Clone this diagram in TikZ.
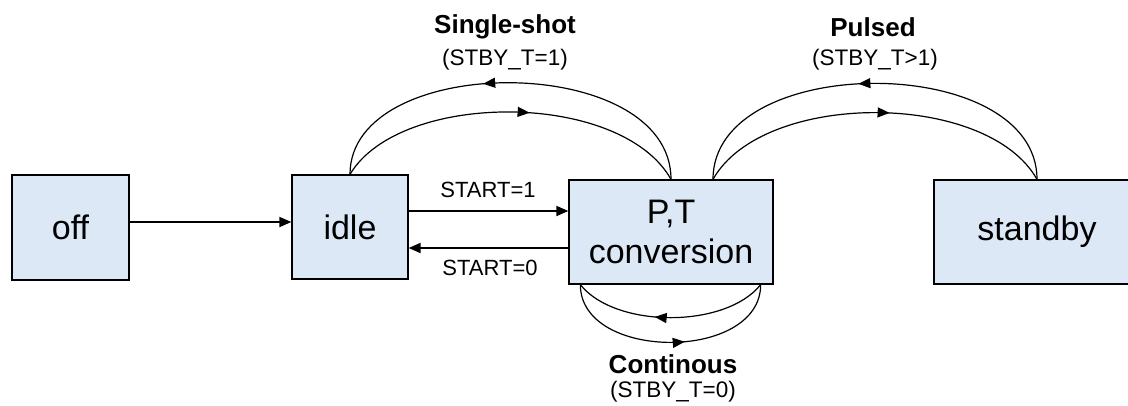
\documentclass[tikz,border=0pt]{standalone}
\usepackage{fontspec}
\setmainfont{Liberation Sans}
\usetikzlibrary{arrows.meta,decorations.markings}
\definecolor{boxblue}{RGB}{220,232,246}

\begin{document}
\begin{tikzpicture}[x=1pt, y=-1pt]
\tikzset{
	state/.style = {
		draw, line width=1.3pt,
		fill=boxblue, inner sep=0pt,
		align=center, font=\fontsize{34}{40}\selectfont
	},
	trans/.style={
		draw, line width=1.8pt,
		-{Triangle[length=12pt, width=10pt]}
	},
	loop/.style={
		draw, line width=1.2pt,
		postaction={decorate},
		decoration={markings,
			mark=at position #1 with {\arrow{Triangle[length=12pt, width=10pt]}}}
	},
	lbl/.style={
		font=\fontsize{22}{24}\selectfont
	},
	mode/.style={
		font=\fontsize{26}{28}\selectfont\bfseries
	},
	cond/.style={
		font=\fontsize{22.5}{24}\selectfont
	},
}
\useasboundingbox (0,0) rectangle (1128,405);

% the states
\node [state, minimum width=117pt, minimum height=105pt] (off) at (70.5, 227.5) {off};
\node [state, minimum width=116pt, minimum height=104pt] (idle) at (350, 227) {idle};
\node [state, minimum width=204pt, minimum height=104pt] (pt) at (671, 232) {P,T\\conversion};
\node [state, minimum width=206pt, minimum height=104pt] (standby) at (1037, 232) {standby};

% straight transitions
\path [trans] (off.east |- 0,222) -- (idle.west |- 0,222);
\path [trans] (idle.east |- 0,211) -- (pt.west |- 0,211);
\path [trans] (pt.west |- 0,248) -- (idle.east |- 0,248);

\node [lbl] (s1) at (488, 190) {START=1};
\node [lbl] (s0) at (490, 268) {START=0};

% single-shot loop
\path [loop=0.57] (pt.north) .. controls +(0,-128) and +(0,-123) .. (idle.north);
\path [loop=0.55] (idle.north) .. controls +(50,-84) and +(-50,-89) .. (pt.north);

% pulsed loop
\coordinate (ptr) at ([xshift=42pt]pt.north);
\path [loop=0.54] (standby.north) .. controls +(0,-128) and +(0,-128) .. (ptr);
\path [loop=0.54] (ptr) .. controls +(50,-89) and +(-50,-89) .. (standby.north);

% continous loop
\coordinate (ptl) at ([xshift=12pt]pt.south west);
\coordinate (ptrr) at ([xshift=-13pt]pt.south east);
\path [loop=0.58] (ptrr) .. controls +(-35,44) and +(35,44) .. (ptl);
\path [loop=0.56] (ptl) .. controls +(0,77) and +(0,77) .. (ptrr);

% mode labels
\node [mode] (single) at (505, 27) {Single-shot};
\node [cond] at (505, 60) {(STBY\_T=1)};
\node [mode] (pulsed) at (873, 27) {Pulsed};
\node [cond] at (875, 60) {(STBY\_T>1)};
\node [mode] (cont) at (673, 364) {Continous};
\node [cond] at (673, 392) {(STBY\_T=0)};

\end{tikzpicture}
\end{document}
